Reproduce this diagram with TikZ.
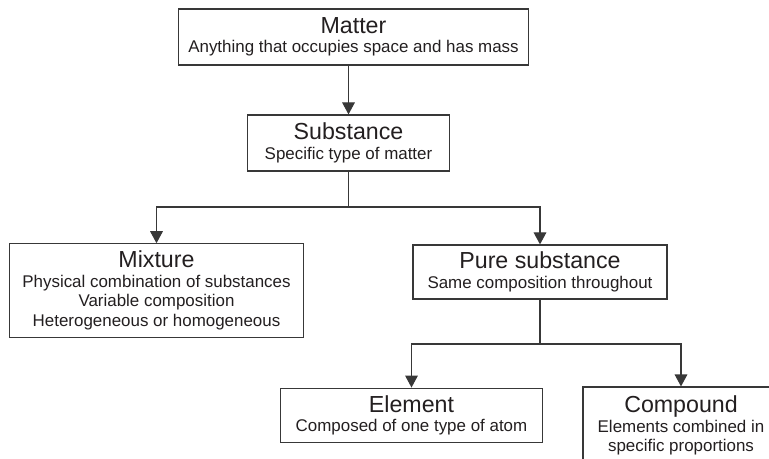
\documentclass[tikz,border=0pt]{standalone}
\usepackage{fontspec}
\setmainfont{Liberation Sans}
\usetikzlibrary{arrows.meta,positioning,calc}
\definecolor{Ink}{HTML}{231F20}
\definecolor{Frame}{HTML}{383838}
\newcommand{\boxhead}[1]{{\fontsize{17.4pt}{15pt}\selectfont #1}}
\tikzset{box/.style={draw=Frame,line width=0.9pt,fill=white,align=center,
    inner sep=4pt,font=\fontsize{12.7pt}{14.6pt}\selectfont,text=Ink},
  edge/.style={-{Triangle[length=9pt,width=9.5pt]},line width=0.9pt,draw=Frame}}
\begin{document}
\begin{tikzpicture}[x=0.75pt,y=0.75pt]
  \useasboundingbox (0,0) rectangle (769,459);
  \clip (0,0) rectangle (769,459);
  \node[box,minimum width=263pt,minimum height=42pt] (matter) at (353.5,422)
    {\boxhead{Matter}\\Anything that occupies space and has mass};
  \node[box,minimum width=152pt,minimum height=42pt] (substance) at (348.5,316)
    {\boxhead{Substance}\\Specific type of matter};
  \node[box,minimum width=221pt,minimum height=70pt] (mixture) at (156.5,168.5)
    {\boxhead{Mixture}\\Physical combination of substances\\Variable composition\\Heterogeneous or homogeneous};
  \node[box,minimum width=190.5pt,minimum height=40.5pt] (pure) at (540,187)
    {\boxhead{Pure substance}\\Same composition throughout};
  \node[box,minimum width=196pt,minimum height=41pt] (element) at (411.5,43.5)
    {\boxhead{Element}\\Composed of one type of atom};
  \node[box,minimum width=147pt,minimum height=58pt] (compound) at (681,33.3)
    {\boxhead{Compound}\\Elements combined in\\specific proportions};
  % branch points
  \coordinate (split1) at (348.5,252);
  \coordinate (split2) at (540,115);
  \draw[edge] (matter.south -| substance.north) -- (substance.north);
  \draw[edge] (substance.south) -- (split1) -| (mixture.north);
  \draw[edge] (split1) -| (pure.north);
  \draw[edge] (pure.south) -- (split2) -| (element.north);
  \draw[edge] (split2) -| (compound.north);
\end{tikzpicture}
\end{document}
